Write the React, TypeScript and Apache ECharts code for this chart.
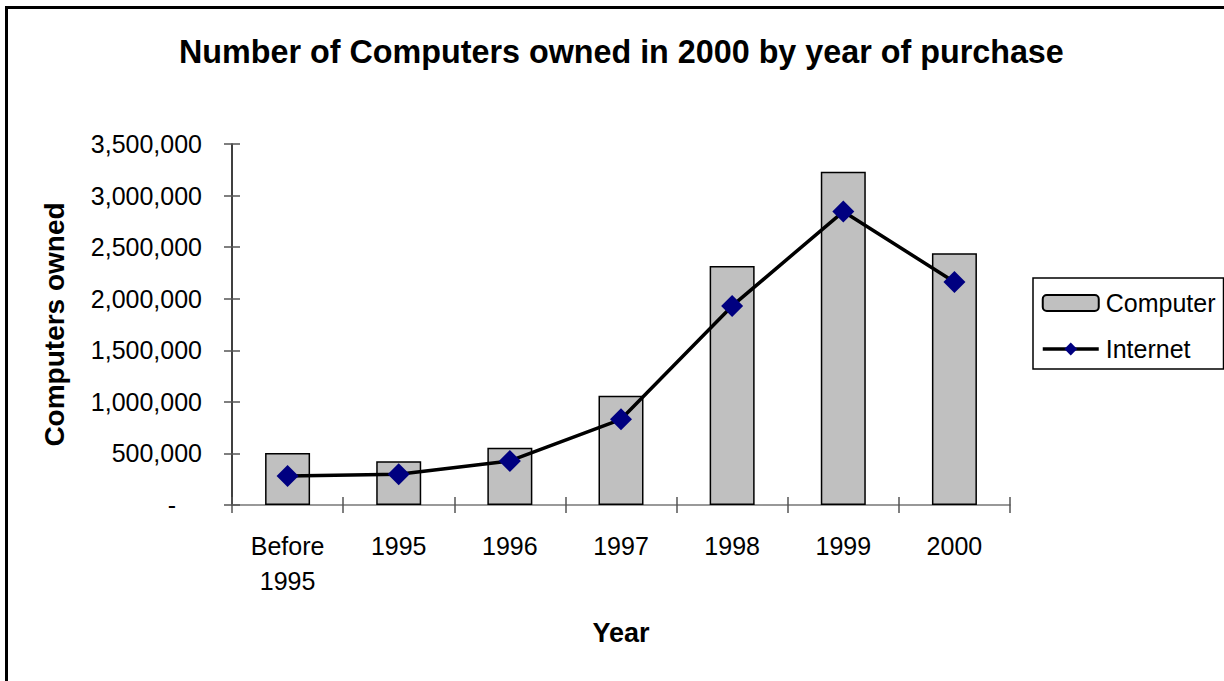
import React, { useEffect, useRef } from 'react';
import * as echarts from 'echarts';

const titleText = 'Number of Computers owned in 2000 by year of purchase';
const categories = ['Before\n1995', '1995', '1996', '1997', '1998', '1999', '2000'];
const computerValues = [505000, 425000, 555000, 1060000, 2318000, 3230000, 2440000];
const internetValues = [280000, 298000, 427000, 831000, 1930000, 2845000, 2163000];
const seriesNames = ['Computer', 'Internet'];
const yMin = 0;
const yMax = 3500000;
const yStep = 500000;

const FONT = '"Liberation Sans", Arial, sans-serif';

export default function App() {
  const ref = useRef<HTMLDivElement>(null);
  useEffect(() => {
    if (!ref.current) return;
    const chart = echarts.init(ref.current, null, { renderer: 'svg' });
    const yFmt = (v: number) => (v === 0 ? '{d|-}' : Math.round(v).toLocaleString('en-US'));
    chart.setOption({
      animation: false,
      backgroundColor: '#fff',
      textStyle: { fontFamily: FONT },
      title: {
        text: titleText,
        left: 179,
        top: 36,
        padding: 0,
        textStyle: { fontFamily: FONT, fontSize: 32.3, fontWeight: 'bold', color: '#000' },
      },
      graphic: [
        {
          type: 'rect',
          shape: { x: 6.5, y: 7.5, width: 1240, height: 700 },
          style: { fill: 'none', stroke: '#000', lineWidth: 3 },
          silent: true,
        },
      ],
      legend: {
        orient: 'vertical',
        left: 1033,
        top: 278,
        padding: [11, 8, 6, 8],
        itemGap: 18,
        itemWidth: 56,
        itemHeight: 16,
        borderColor: '#000',
        borderWidth: 1.5,
        data: seriesNames,
        lineStyle: { width: 3.5, color: '#000' },
        textStyle: { fontFamily: FONT, fontSize: 25, color: '#000', lineHeight: 28, padding: [0, 0, 0, 2] },
      },
      grid: { left: 232, right: 214, top: 144, bottom: 176, containLabel: false },
      xAxis: [
        {
          type: 'category',
          data: categories,
          position: 'bottom',
          name: 'Year',
          nameLocation: 'middle',
          nameGap: 114,
          nameTextStyle: { fontFamily: FONT, fontSize: 27, fontWeight: 'bold', color: '#000' },
          axisLine: { lineStyle: { color: '#777', width: 1.5 } },
          axisTick: { show: true, inside: false, length: 8, lineStyle: { color: '#555', width: 1.5 } },
          axisLabel: { fontFamily: FONT, fontSize: 25, color: '#000', margin: 23, lineHeight: 35 },
          splitLine: { show: false },
        },
        {
          type: 'category',
          data: categories,
          position: 'bottom',
          axisLine: { show: false },
          axisTick: { show: true, inside: true, length: 8, lineStyle: { color: '#555', width: 1.5 } },
          axisLabel: { show: false },
          splitLine: { show: false },
        },
      ],
      yAxis: [
        {
          type: 'value',
          min: yMin,
          max: yMax,
          interval: yStep,
          position: 'left',
          name: 'Computers owned',
          nameLocation: 'middle',
          nameGap: 164,
          nameTextStyle: { fontFamily: FONT, fontSize: 28, fontWeight: 'bold', color: '#000' },
          axisLine: { show: true, lineStyle: { color: '#000', width: 1.5 } },
          axisTick: { show: true, inside: false, length: 8, lineStyle: { color: '#555', width: 1.5 } },
          axisLabel: {
            fontFamily: FONT,
            fontSize: 25,
            color: '#000',
            margin: 30,
            formatter: yFmt,
            rich: { d: { fontFamily: FONT, fontSize: 25, color: '#000', padding: [0, 26, 0, 0] } },
          },
          splitLine: { show: false },
        },
        {
          type: 'value',
          min: yMin,
          max: yMax,
          interval: yStep,
          position: 'left',
          axisLine: { show: false },
          axisTick: { show: true, inside: true, length: 8, lineStyle: { color: '#555', width: 1.5 } },
          axisLabel: { show: false },
          splitLine: { show: false },
        },
      ],
      series: [
        {
          name: seriesNames[0],
          type: 'bar',
          xAxisIndex: 0,
          yAxisIndex: 0,
          data: computerValues,
          barWidth: 45,
          itemStyle: { color: '#C0C0C0', borderColor: '#000', borderWidth: 1.5 },
          z: 2,
        },
        {
          name: seriesNames[1],
          type: 'line',
          xAxisIndex: 0,
          yAxisIndex: 0,
          data: internetValues,
          symbol: 'diamond',
          symbolSize: 22,
          lineStyle: { color: '#000', width: 3.5 },
          itemStyle: { color: '#000080' },
          z: 3,
        },
      ],
    });
    return () => chart.dispose();
  }, []);
  return (
    <div
      ref={ref}
      style={{ position: 'absolute', left: 0, top: 0, width: 1224, height: 681 }}
    />
  );
}
